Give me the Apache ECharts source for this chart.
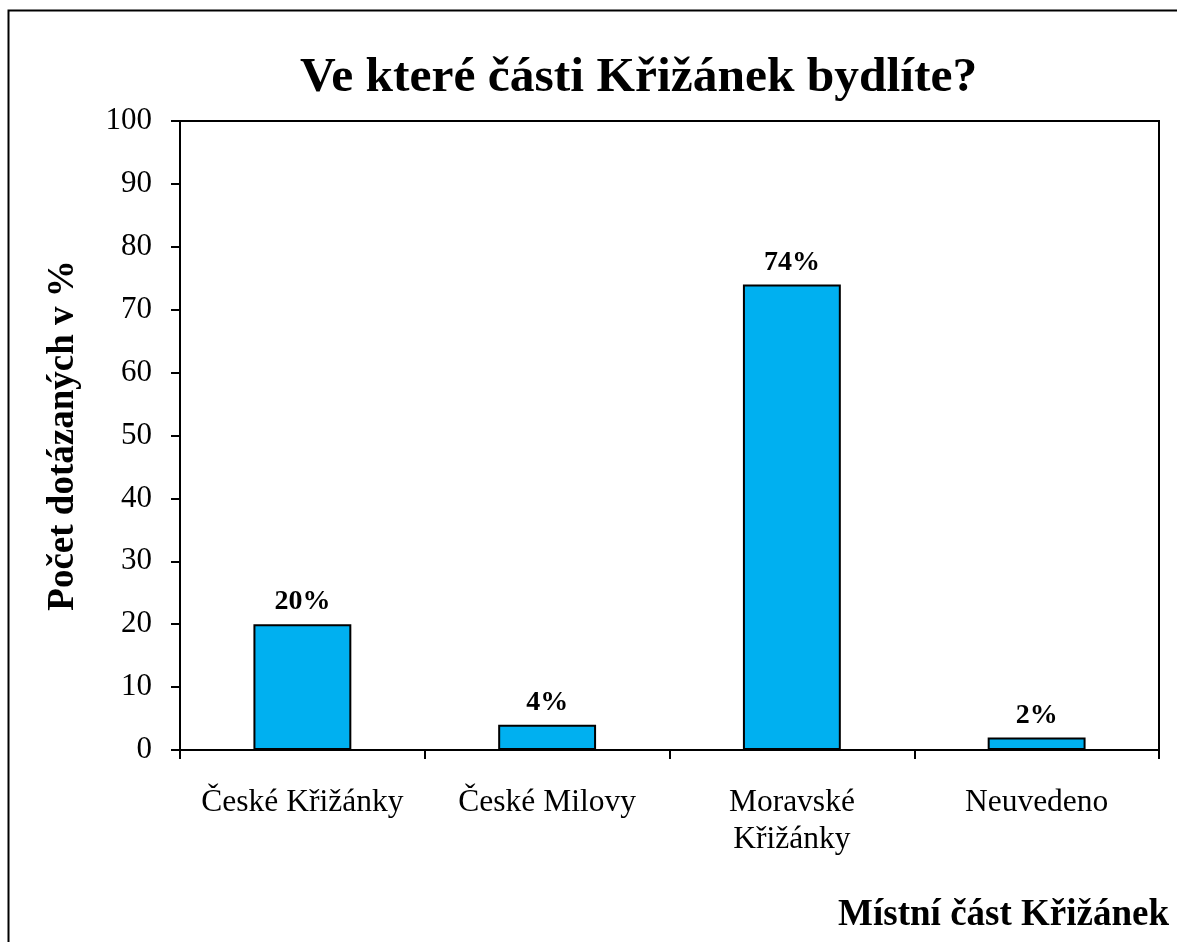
<!DOCTYPE html>
<html>
<head>
<meta charset="utf-8">
<script src="https://cdn.jsdelivr.net/npm/echarts@6/dist/echarts.min.js"></script>
<style>
  html, body { margin: 0; padding: 0; background: #fff; }
  #chart { width: 1177px; height: 942px; }
</style>
</head>
<body>
<div id="chart"></div>
<script>
const $ = (id) => document.getElementById(id);

const serif = "Liberation Serif, Times New Roman, serif";

const categories = ["České Křižánky", "České Milovy", "Moravské\nKřižánky", "Neuvedeno"];
const values = [20, 4, 74, 2];
const yTicks = { min: 0, max: 100, step: 10 };

const chart = echarts.init($("chart"));

chart.setOption({
  animation: false,
  backgroundColor: "#fff",
  textStyle: { fontFamily: serif, color: "#000" },
  title: [
    {
      text: "Ve které části Křižánek bydlíte?",
      left: 300,
      top: 53,
      padding: 0,
      textStyle: { fontFamily: serif, fontSize: 49.5, fontWeight: "bold", color: "#000" }
    },
    {
      text: "Místní část Křižánek",
      right: 8,
      top: 897,
      padding: 0,
      textStyle: { fontFamily: serif, fontSize: 37, fontWeight: "bold", color: "#000" }
    }
  ],
  graphic: [{
    type: "rect",
    shape: { x: 8.5, y: 10.5, width: 1200, height: 1000 },
    style: { fill: "none", stroke: "#000", lineWidth: 2 },
    silent: true
  }],
  grid: {
    left: 180, right: 18, top: 121, bottom: 192,
    show: true, borderColor: "#000", borderWidth: 2
  },
  xAxis: {
    type: "category",
    data: categories,
    axisLine: { lineStyle: { color: "#000", width: 2 } },
    axisTick: { show: true, length: 9, lineStyle: { color: "#000", width: 2 } },
    axisLabel: {
      interval: 0, margin: 34, fontFamily: serif, fontSize: 31.5, color: "#000", lineHeight: 37
    },
    splitLine: { show: false }
  },
  yAxis: {
    type: "value",
    min: yTicks.min,
    max: yTicks.max,
    interval: yTicks.step,
    name: "Počet dotázaných v %",
    nameLocation: "middle",
    nameGap: 98,
    nameTextStyle: { fontFamily: serif, fontSize: 37, fontWeight: "bold", color: "#000" },
    axisLine: { show: true, lineStyle: { color: "#000", width: 2 } },
    axisTick: { show: true, length: 9, lineStyle: { color: "#000", width: 2 } },
    axisLabel: { margin: 28, fontFamily: serif, fontSize: 31, color: "#000" },
    splitLine: { show: false }
  },
  series: [{
    type: "bar",
    data: values,
    barWidth: "40%",
    itemStyle: { color: "#00B0F0", borderColor: "#000", borderWidth: 2 },
    label: {
      show: true,
      position: "top",
      distance: 8,
      formatter: (p) => p.value + "%",
      fontFamily: serif,
      fontSize: 28,
      fontWeight: "bold",
      color: "#000"
    }
  }]
});
</script>
</body>
</html>
